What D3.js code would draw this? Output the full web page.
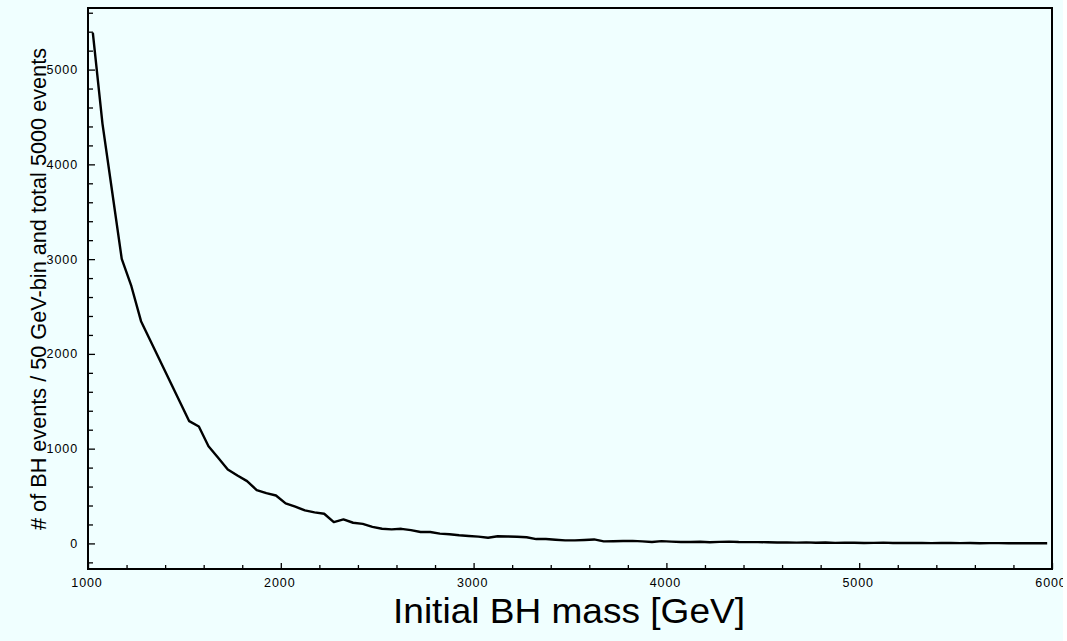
<!DOCTYPE html>
<html>
<head>
<meta charset="utf-8">
<script src="https://cdn.jsdelivr.net/npm/d3@7"></script>
<style>
  html, body { margin: 0; padding: 0; background: #f0ffff; }
  svg { display: block; }
  text { font-family: "Liberation Sans", Arial, Helvetica, sans-serif; fill: #000; }
</style>
</head>
<body>
<svg id="chart" width="1067" height="641"></svg>
<script>
// Initial black-hole mass, 50 GeV bin centres [GeV]
const massBins = [
  1025, 1075, 1125, 1175, 1225, 1275, 1325, 1375, 1425, 1475,
  1525, 1575, 1625, 1675, 1725, 1775, 1825, 1875, 1925, 1975,
  2025, 2075, 2125, 2175, 2225, 2275, 2325, 2375, 2425, 2475,
  2525, 2575, 2625, 2675, 2725, 2775, 2825, 2875, 2925, 2975,
  3025, 3075, 3125, 3175, 3225, 3275, 3325, 3375, 3425, 3475,
  3525, 3575, 3625, 3675, 3725, 3775, 3825, 3875, 3925, 3975,
  4025, 4075, 4125, 4175, 4225, 4275, 4325, 4375, 4425, 4475,
  4525, 4575, 4625, 4675, 4725, 4775, 4825, 4875, 4925, 4975,
  5025, 5075, 5125, 5175, 5225, 5275, 5325, 5375, 5425, 5475,
  5525, 5575, 5625, 5675, 5725, 5775, 5825, 5875, 5925, 5975
];

// Number of BH events per bin
const eventCounts = [
  5390, 4430, 3716, 3003, 2714, 2345, 2134, 1923, 1712, 1501,
  1290, 1234, 1026,  904,  781,  717,  657,  562,  530,  506,
   422,  387,  348,  327,  313,  225,  253,  218,  206,  175,
   155,  148,  154,  140,  120,  121,  103,   97,   86,   79,
    72,   60,   75,   73,   70,   65,   46,   47,   39,   32,
    32,   36,   42,   21,   23,   25,   27,   21,   15,   24,
    19,   15,   15,   18,   13,   16,   19,   15,   14,   14,
    12,    9,   10,    8,   11,    7,    9,    6,    8,    7,
     5,    6,    8,    5,    4,    6,    5,    3,    4,    5,
     3,    4,    2,    3,    3,    2,    2,    3,    1,    2
];

const xTickValues = [1000, 2000, 3000, 4000, 5000, 6000];
const yTickValues = [0, 1000, 2000, 3000, 4000, 5000];

const xTitle = "Initial BH mass [GeV]";
const yTitle = "# of BH events / 50 GeV-bin and total 5000 events";

const svg = d3.select("#chart");
const W = 1067, H = 641;
const m = { left: 88, right: 1052, top: 8, bottom: 569 };

svg.append("rect").attr("width", W).attr("height", H).attr("fill", "#f0ffff");

const x = d3.scaleLinear().domain([1000, 6000]).range([m.left, m.right]);
const y = d3.scaleLinear().domain([-270, 5650]).range([m.bottom, m.top]);

// inward minor ticks every 200
const xMinor = d3.range(1200, 6000, 200).filter(v => v % 1000 !== 0);
const yMinor = d3.range(-200, 5650, 200).filter(v => v % 1000 !== 0);

const xAxisMajor = d3.axisTop(x).tickValues(xTickValues).tickSize(6).tickFormat("");
const xAxisMinor = d3.axisTop(x).tickValues(xMinor).tickSize(4).tickFormat("");
const yAxisMajor = d3.axisRight(y).tickValues(yTickValues).tickSize(7).tickFormat("");
const yAxisMinor = d3.axisRight(y).tickValues(yMinor).tickSize(5).tickFormat("");

function styleAxis(g) {
  g.select(".domain").remove();
  g.selectAll(".tick line").attr("stroke", "#000").attr("stroke-width", 1.3);
}

svg.append("g").attr("transform", `translate(0,${m.bottom})`).call(xAxisMajor).call(styleAxis);
svg.append("g").attr("transform", `translate(0,${m.bottom})`).call(xAxisMinor).call(styleAxis);
svg.append("g").attr("transform", `translate(${m.left},0)`).call(yAxisMajor).call(styleAxis);
svg.append("g").attr("transform", `translate(${m.left},0)`).call(yAxisMinor).call(styleAxis);

// tick labels
svg.append("g").selectAll("text")
  .data(xTickValues).join("text")
  .attr("x", d => x(d) - 1)
  .attr("y", 587)
  .attr("text-anchor", "middle")
  .attr("font-size", 12.5)
  .attr("letter-spacing", 0.9)
  .text(d => d);

svg.append("g").selectAll("text")
  .data(yTickValues).join("text")
  .attr("x", 78)
  .attr("y", d => y(d) + 4.5)
  .attr("text-anchor", "end")
  .attr("font-size", 12.5)
  .attr("letter-spacing", 0.9)
  .text(d => d);

// event curve
const line = d3.line()
  .x((d, i) => x(massBins[i]))
  .y(d => y(d));

svg.append("path")
  .datum(eventCounts)
  .attr("fill", "none")
  .attr("stroke", "#000")
  .attr("stroke-width", 2.4)
  .attr("stroke-linejoin", "round")
  .attr("d", line);

// frame
svg.append("rect")
  .attr("x", m.left).attr("y", m.top)
  .attr("width", m.right - m.left).attr("height", m.bottom - m.top)
  .attr("fill", "none").attr("stroke", "#000").attr("stroke-width", 2);

// axis titles
svg.append("text")
  .attr("x", 569).attr("y", 623)
  .attr("text-anchor", "middle")
  .attr("font-size", 35)
  .attr("textLength", 352)
  .attr("lengthAdjust", "spacingAndGlyphs")
  .text(xTitle);

svg.append("text")
  .attr("transform", "translate(46,289) rotate(-90)")
  .attr("text-anchor", "middle")
  .attr("font-size", 22)
  .attr("textLength", 482)
  .attr("lengthAdjust", "spacingAndGlyphs")
  .text(yTitle);

// right edge strip
svg.append("rect").attr("x", 1063).attr("y", 0).attr("width", 4).attr("height", H).attr("fill", "#fff");
</script>
</body>
</html>
